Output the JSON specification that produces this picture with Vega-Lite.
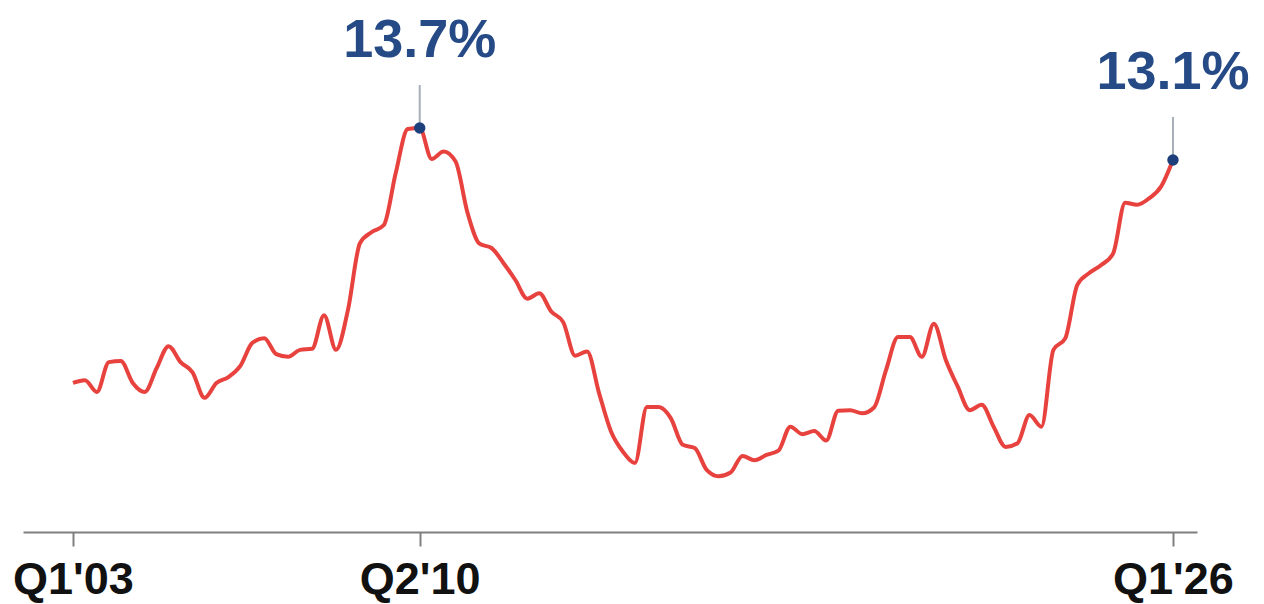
{
  "$schema": "https://vega.github.io/schema/vega-lite/v6.json",
  "width": 1174,
  "height": 532,
  "autosize": {"type": "none"},
  "padding": {"left": 23, "top": 0, "right": 67, "bottom": 72},
  "background": "white",
  "config": {"view": {"stroke": null}, "font": "Liberation Sans"},
  "datasets": {
    "series": [
      {"q": "Q1'03", "n": 0, "v": 8.92}, {"q": "Q2'03", "n": 1, "v": 8.97}, {"q": "Q3'03", "n": 2, "v": 8.75}, {"q": "Q4'03", "n": 3, "v": 9.31},
      {"q": "Q1'04", "n": 4, "v": 9.33}, {"q": "Q2'04", "n": 5, "v": 8.92}, {"q": "Q3'04", "n": 6, "v": 8.75}, {"q": "Q4'04", "n": 7, "v": 9.2},
      {"q": "Q1'05", "n": 8, "v": 9.61}, {"q": "Q2'05", "n": 9, "v": 9.31}, {"q": "Q3'05", "n": 10, "v": 9.12}, {"q": "Q4'05", "n": 11, "v": 8.64},
      {"q": "Q1'06", "n": 12, "v": 8.92}, {"q": "Q2'06", "n": 13, "v": 9.03}, {"q": "Q3'06", "n": 14, "v": 9.24}, {"q": "Q4'06", "n": 15, "v": 9.67},
      {"q": "Q1'07", "n": 16, "v": 9.76}, {"q": "Q2'07", "n": 17, "v": 9.46}, {"q": "Q3'07", "n": 18, "v": 9.41}, {"q": "Q4'07", "n": 19, "v": 9.54},
      {"q": "Q1'08", "n": 20, "v": 9.56}, {"q": "Q2'08", "n": 21, "v": 10.19}, {"q": "Q3'08", "n": 22, "v": 9.54}, {"q": "Q4'08", "n": 23, "v": 10.29},
      {"q": "Q1'09", "n": 24, "v": 11.54}, {"q": "Q2'09", "n": 25, "v": 11.75}, {"q": "Q3'09", "n": 26, "v": 11.88}, {"q": "Q4'09", "n": 27, "v": 12.86},
      {"q": "Q1'10", "n": 28, "v": 13.68}, {"q": "Q2'10", "n": 29, "v": 13.7}, {"q": "Q3'10", "n": 30, "v": 13.12}, {"q": "Q4'10", "n": 31, "v": 13.26},
      {"q": "Q1'11", "n": 32, "v": 13.07}, {"q": "Q2'11", "n": 33, "v": 12.11}, {"q": "Q3'11", "n": 34, "v": 11.53}, {"q": "Q4'11", "n": 35, "v": 11.45},
      {"q": "Q1'12", "n": 36, "v": 11.17}, {"q": "Q2'12", "n": 37, "v": 10.85}, {"q": "Q3'12", "n": 38, "v": 10.5}, {"q": "Q4'12", "n": 39, "v": 10.6},
      {"q": "Q1'13", "n": 40, "v": 10.26}, {"q": "Q2'13", "n": 41, "v": 10.06}, {"q": "Q3'13", "n": 42, "v": 9.43}, {"q": "Q4'13", "n": 43, "v": 9.51},
      {"q": "Q1'14", "n": 44, "v": 8.73}, {"q": "Q2'14", "n": 45, "v": 8.01}, {"q": "Q3'14", "n": 46, "v": 7.63}, {"q": "Q4'14", "n": 47, "v": 7.42},
      {"q": "Q1'15", "n": 48, "v": 8.47}, {"q": "Q2'15", "n": 49, "v": 8.47}, {"q": "Q3'15", "n": 50, "v": 8.26}, {"q": "Q4'15", "n": 51, "v": 7.76},
      {"q": "Q1'16", "n": 52, "v": 7.7}, {"q": "Q2'16", "n": 53, "v": 7.29}, {"q": "Q3'16", "n": 54, "v": 7.17}, {"q": "Q4'16", "n": 55, "v": 7.24},
      {"q": "Q1'17", "n": 56, "v": 7.55}, {"q": "Q2'17", "n": 57, "v": 7.47}, {"q": "Q3'17", "n": 58, "v": 7.57}, {"q": "Q4'17", "n": 59, "v": 7.65},
      {"q": "Q1'18", "n": 60, "v": 8.1}, {"q": "Q2'18", "n": 61, "v": 7.96}, {"q": "Q3'18", "n": 62, "v": 8.02}, {"q": "Q4'18", "n": 63, "v": 7.84},
      {"q": "Q1'19", "n": 64, "v": 8.4}, {"q": "Q2'19", "n": 65, "v": 8.41}, {"q": "Q3'19", "n": 66, "v": 8.35}, {"q": "Q4'19", "n": 67, "v": 8.46},
      {"q": "Q1'20", "n": 68, "v": 9.16}, {"q": "Q2'20", "n": 69, "v": 9.78}, {"q": "Q3'20", "n": 70, "v": 9.78}, {"q": "Q4'20", "n": 71, "v": 9.41},
      {"q": "Q1'21", "n": 72, "v": 10.03}, {"q": "Q2'21", "n": 73, "v": 9.35}, {"q": "Q3'21", "n": 74, "v": 8.85}, {"q": "Q4'21", "n": 75, "v": 8.41},
      {"q": "Q1'22", "n": 76, "v": 8.51}, {"q": "Q2'22", "n": 77, "v": 8.1}, {"q": "Q3'22", "n": 78, "v": 7.72}, {"q": "Q4'22", "n": 79, "v": 7.79},
      {"q": "Q1'23", "n": 80, "v": 8.32}, {"q": "Q2'23", "n": 81, "v": 8.1}, {"q": "Q3'23", "n": 82, "v": 9.54}, {"q": "Q4'23", "n": 83, "v": 9.76},
      {"q": "Q1'24", "n": 84, "v": 10.76}, {"q": "Q2'24", "n": 85, "v": 10.98}, {"q": "Q3'24", "n": 86, "v": 11.13}, {"q": "Q4'24", "n": 87, "v": 11.35},
      {"q": "Q1'25", "n": 88, "v": 12.3}, {"q": "Q2'25", "n": 89, "v": 12.26}, {"q": "Q3'25", "n": 90, "v": 12.38}, {"q": "Q4'25", "n": 91, "v": 12.6},
      {"q": "Q1'26", "n": 92, "v": 13.1}
    ],
    "callouts": [
      {"q": "Q2'10", "n": 29, "v": 13.7, "label": "13.7%"},
      {"q": "Q1'26", "n": 92, "v": 13.1, "label": "13.1%"}
    ]
  },
  "encoding": {
    "x": {
      "field": "n",
      "type": "quantitative",
      "scale": {"domain": [-4.18, 94.01], "nice": false, "zero": false},
      "axis": {
        "title": null,
        "values": [0, 29, 92],
        "labelExpr": "datum.value == 0 ? \"Q1'03\" : datum.value == 29 ? \"Q2'10\" : \"Q1'26\"",
        "grid": false,
        "domainColor": "#7f7f7f",
        "domainWidth": 2,
        "tickColor": "#7f7f7f",
        "tickWidth": 2,
        "tickSize": 14,
        "labelFont": "Liberation Sans",
        "labelFontSize": 45,
        "labelFontWeight": "bold",
        "labelColor": "#111111",
        "labelBaseline": "alphabetic",
        "labelPadding": 47,
        "labelFlush": false,
        "labelOverlap": false
      }
    },
    "y": {
      "field": "v",
      "type": "quantitative",
      "scale": {"domain": [6.125, 16.1], "nice": false, "zero": false},
      "axis": null
    }
  },
  "layer": [
    {
      "data": {"name": "series"},
      "mark": {"type": "line", "color": "#e8423f", "strokeWidth": 4, "interpolate": "monotone"}
    },
    {
      "data": {"name": "callouts"},
      "mark": {"type": "rule", "color": "#a7afb8", "strokeWidth": 2, "yOffset": 0, "y2Offset": -43},
      "encoding": {"y2": {"field": "v"}}
    },
    {
      "data": {"name": "callouts"},
      "mark": {"type": "point", "filled": true, "opacity": 1, "size": 130, "color": "#1d3f7b"}
    },
    {
      "data": {"name": "callouts"},
      "mark": {"type": "text", "font": "Liberation Sans", "fontSize": 54, "fontWeight": "bold", "color": "#254a86", "align": "center", "baseline": "alphabetic", "dy": -71},
      "encoding": {"text": {"field": "label"}}
    }
  ]
}
